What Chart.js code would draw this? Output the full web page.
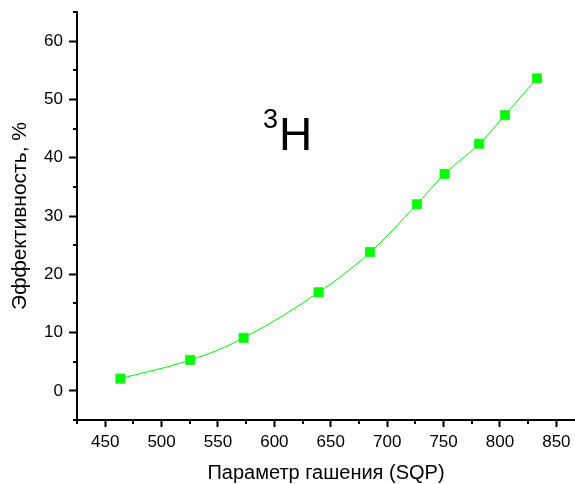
<!DOCTYPE html>
<html>
<head>
<meta charset="utf-8">
<script src="https://cdn.jsdelivr.net/npm/chart.js@4"></script>
<style>
  body { margin: 0; background: #fff; }
  #wrap { width: 575px; height: 484px; position: relative; }
</style>
</head>
<body>
<div id="wrap"><canvas id="effChart"></canvas></div>
<script>
// quench parameter (SQP) vs counting efficiency, tritium
var sqp = [463.5, 525.4, 572.7, 639.2, 684.9, 726.3, 750.9, 781.6, 804.4, 832.7];
var efficiency = [2.1, 5.3, 9.1, 16.9, 23.8, 32.0, 37.2, 42.4, 47.3, 53.6];

var xMajor = [450, 500, 550, 600, 650, 700, 750, 800, 850];
var xMinor = [425, 475, 525, 575, 625, 675, 725, 775, 825];
var yMajor = [0, 10, 20, 30, 40, 50, 60];
var yMinor = [-5, 5, 15, 25, 35, 45, 55, 65];

var points = sqp.map(function (x, i) { return { x: x, y: efficiency[i] }; });

// minor ticks + the "3H" label
var extras = {
    id: 'extras',
    afterDraw: function (chart) {
        var c = chart.ctx, xs = chart.scales.x, ys = chart.scales.y;
        c.save();
        c.strokeStyle = '#000';
        c.lineWidth = 2;
        xMinor.forEach(function (v) {
            var px = Math.round(xs.getPixelForValue(v));
            c.beginPath(); c.moveTo(px, xs.top); c.lineTo(px, xs.top + 4); c.stroke();
        });
        yMinor.forEach(function (v) {
            var py = Math.round(ys.getPixelForValue(v));
            c.beginPath(); c.moveTo(ys.right, py); c.lineTo(ys.right - 4, py); c.stroke();
        });

        var lx = xs.getPixelForValue(590), ly = ys.getPixelForValue(41.3);
        c.fillStyle = '#000';
        c.textBaseline = 'alphabetic';
        c.font = '27px "Liberation Sans", Arial, sans-serif';
        c.fillText('3', lx, ly - 22);
        c.font = '46px "Liberation Sans", Arial, sans-serif';
        c.fillText('H', lx + 16, ly);
        c.restore();
    }
};

var tickFont = { family: '"Liberation Sans", Arial, sans-serif', size: 17 };

new Chart(document.getElementById('effChart').getContext('2d'), {
    type: 'scatter',
    data: {
        datasets: [{
            data: points,
            showLine: true,
            borderColor: '#00ee00',
            borderWidth: 1,
            tension: 0.4,
            pointStyle: 'rect',
            pointRadius: 6.5,
            pointHoverRadius: 6.5,
            pointBackgroundColor: '#00ff00',
            pointBorderColor: '#30f030',
            pointBorderWidth: 1
        }]
    },
    options: {
        responsive: true,
        maintainAspectRatio: false,
        animation: false,
        layout: { autoPadding: false, padding: { top: 12, right: 0, left: 0, bottom: 0 } },
        plugins: { legend: { display: false }, tooltip: { enabled: false } },
        scales: {
            x: {
                type: 'linear',
                min: 425,
                max: 866.5,
                afterBuildTicks: function (s) { s.ticks = xMajor.map(function (v) { return { value: v }; }); },
                afterFit: function (s) { s.height = 64; s.paddingLeft = 0; s.paddingRight = 0; },
                grid: { drawOnChartArea: false, drawTicks: true, tickLength: 7, tickWidth: 2, tickColor: '#000' },
                border: { display: true, color: '#000', width: 2 },
                ticks: { color: '#000', font: tickFont, padding: 5, maxRotation: 0 },
                title: {
                    display: true, text: 'Параметр гашения (SQP)', color: '#000',
                    font: { family: '"Liberation Sans", Arial, sans-serif', size: 20, lineHeight: 1.1 },
                    padding: { top: 0, bottom: 0 }
                }
            },
            y: {
                type: 'linear',
                min: -5,
                max: 65,
                afterBuildTicks: function (s) { s.ticks = yMajor.map(function (v) { return { value: v }; }); },
                afterFit: function (s) { s.width = 77; s.paddingTop = 0; s.paddingBottom = 0; },
                grid: { drawOnChartArea: false, drawTicks: true, tickLength: 8, tickWidth: 2, tickColor: '#000' },
                border: { display: true, color: '#000', width: 2 },
                ticks: { color: '#000', font: tickFont, padding: 6 },
                title: {
                    display: true, text: 'Эффективность, %', color: '#000',
                    font: { family: '"Liberation Sans", Arial, sans-serif', size: 21, lineHeight: 1.2 },
                    padding: { top: 8, bottom: 0 }
                }
            }
        }
    },
    plugins: [extras]
});
</script>
</body>
</html>
